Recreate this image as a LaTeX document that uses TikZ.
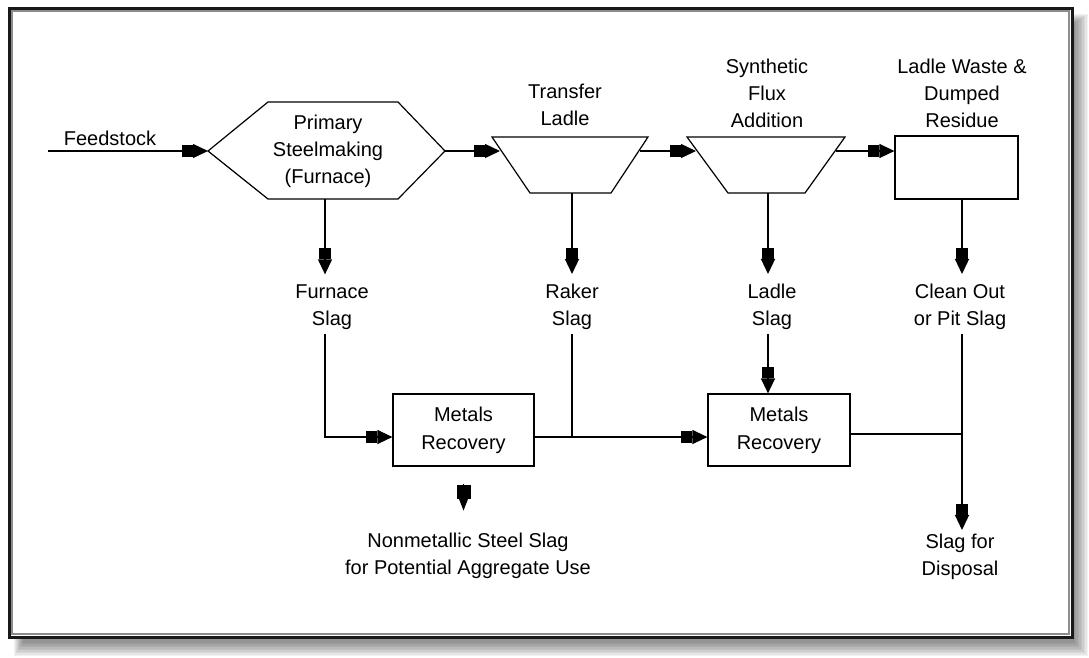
\documentclass[tikz,border=0pt]{standalone}
\usepackage{fontspec}
\setmainfont{Liberation Sans}
\usetikzlibrary{arrows.meta}
\begin{document}
\begin{tikzpicture}[x=1pt,y=-1pt,
  lbl/.style={font=\fontsize{20}{27}\selectfont, align=center, inner sep=0pt},
  boxnode/.style={draw, line width=1.2pt, font=\fontsize{20}{28}\selectfont, align=center, inner sep=0pt},
  shp/.style={draw, line width=1.2pt, line join=miter},
  plain/.style={line width=1.3pt},
  flow/.style={line width=1.3pt, -{Rectangle[length=11pt,width=12pt,sep=0pt]Triangle[length=15pt,width=14pt,sep=0pt]}},
  stub/.style={line width=1.3pt, -{Rectangle[length=14pt,width=14pt,sep=0pt]Triangle[length=12pt,width=9pt,sep=0pt]}}]
\useasboundingbox (0,0) rectangle (1089,657);
\fill[white] (0,0) rectangle (1089,657);
% shadow
\foreach \i in {0,...,9}{
  \fill[black,opacity=0.05] (14+\i,14+\i) rectangle (1088-1.5*\i,656-1.5*\i);
}
% frame
\fill[white] (9,8) rectangle (1072,637);
\draw[black!90, line width=3pt] (9,8) rectangle (1072,637);
\draw[black!45, line width=1.5pt] (12,11) rectangle (1069,634);

% hexagon
\draw[shp] (208,151) -- (268,102) -- (398,102) -- (445,151) -- (398,199) -- (268,199) -- cycle;
\coordinate (hL) at (208,151);
\coordinate (hR) at (445,151);
\coordinate (hB) at (325,199);
\node[lbl] (hex) at (328,151) {Primary\\Steelmaking\\(Furnace)};

% trapezoid 1
\draw[shp] (492,137) -- (648,137) -- (611,193) -- (530,193) -- cycle;
\coordinate (t1L) at (500,151);
\coordinate (t1R) at (640,151);
\coordinate (t1B) at (572,193);
\node[lbl] (tl) at (565,105) {Transfer\\Ladle};

% trapezoid 2
\draw[shp] (687,137) -- (845,137) -- (805,193) -- (728,193) -- cycle;
\coordinate (t2L) at (696,151);
\coordinate (t2R) at (836,151);
\coordinate (t2B) at (768,193);
\node[lbl] (sf) at (767,93) {Synthetic\\Flux\\Addition};

% residue box
\node[boxnode, minimum width=123pt, minimum height=63pt] (res) at (956.5,167.5) {};
\node[lbl] (lw) at (962,93) {Ladle Waste \&\\Dumped\\Residue};

% feedstock
\coordinate (fs0) at (48,151);
\node[lbl] (feed) at (110,138) {Feedstock};

% slag labels
\node[lbl] (fsl) at (332,307) {Furnace\\Slag};
\node[lbl] (rsl) at (572,307) {Raker\\Slag};
\node[lbl] (lsl) at (772,307) {Ladle\\Slag};
\node[lbl] (csl) at (960,307) {Clean Out\\or Pit Slag};

% metals recovery boxes
\node[boxnode, minimum width=141pt, minimum height=72pt] (mr1) at (463.5,430) {Metals\\Recovery};
\node[boxnode, minimum width=142pt, minimum height=72pt] (mr2) at (779,430) {Metals\\Recovery};

% bottom labels
\node[lbl] (nms) at (468,556) {Nonmetallic Steel Slag\\for Potential Aggregate Use};
\node[lbl] (sfd) at (960,557) {Slag for\\Disposal};

% joints
\coordinate (j1) at (325,437);
\coordinate (cx) at (962,199);

% top row flows
\draw[flow] (fs0) -- (hL);
\draw[flow] (hR) -- (t1L);
\draw[flow] (t1R) -- (t2L);
\draw[flow] (t2R) -- (t2R -| res.west);

% down to slag labels
\draw[flow] (hB) -- ([yshift=10pt]hB |- fsl.north);
\draw[flow] (t1B) -- ([yshift=10pt]t1B |- rsl.north);
\draw[flow] (t2B) -- ([yshift=10pt]t2B |- lsl.north);
\draw[flow] (cx) -- ([yshift=10pt]cx |- csl.north);

% furnace slag to metals recovery 1
\draw[flow] ([yshift=-4pt]hB |- fsl.south) -- (j1) -- (j1 -| mr1.west);
% raker slag joins bus
\draw[plain] ([yshift=-4pt]rsl.south) -- (rsl.south |- j1);
% mr1 to mr2
\draw[flow] (j1 -| mr1.east) -- (j1 -| mr2.west);
% ladle slag to mr2
\draw[flow] ([yshift=-4pt]t2B |- lsl.south) -- (t2B |- mr2.north);
% clean out to disposal
\draw[flow] ([yshift=-4pt]cx |- csl.south) -- ([yshift=4pt]cx |- sfd.north);
% mr2 to disposal line
\draw[plain] ([yshift=-4pt]mr2.east) -- ([yshift=-4pt]mr2.east -| cx);
% lone arrowhead below mr1
\draw[stub] ([yshift=-17pt]mr1.south) -- ([yshift=-44pt]mr1.south);
\end{tikzpicture}
\end{document}
